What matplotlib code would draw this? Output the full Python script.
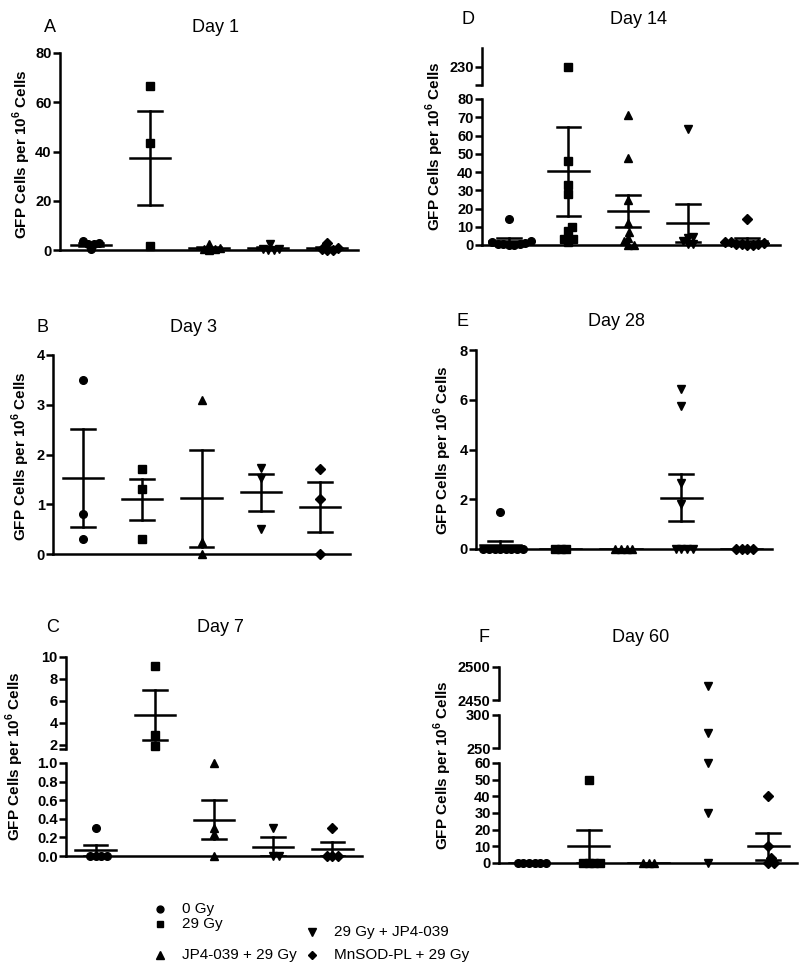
import numpy as np
import matplotlib
matplotlib.use('Agg')
import matplotlib.pyplot as plt

plt.rcParams['font.family'] = ['Liberation Sans', 'DejaVu Sans']
plt.rcParams['mathtext.fontset'] = 'custom'
plt.rcParams['mathtext.rm'] = 'Liberation Sans'
plt.rcParams['mathtext.bf'] = 'Liberation Sans:bold'

# ---------------- data ----------------
groups = ['0 Gy', '29 Gy', 'JP4-039 + 29 Gy', '29 Gy + JP4-039', 'MnSOD-PL + 29 Gy']
markers = ['o', 's', '^', 'v', 'D']
marker_sizes = [5.5, 5.2, 6.2, 6.2, 4.6]

day1_values = [[3.6, 3.0, 2.6, 2.4, 0.4], [66.5, 43.5, 1.5], [2.6, 1.0, 0.6, 0.3, 0.2],
               [2.3, 0.4, 0.3, 0.2, 0.2], [3.0, 0.8, 0.3, 0.2, 0.0]]
day1_mean = [2.2, 37.2, 0.94, 0.7, 0.8]
day1_sem = [0.5, 19.1, 0.44, 0.4, 0.5]

day3_values = [[3.5, 0.8, 0.3], [1.7, 1.3, 0.3], [3.1, 0.25, 0.0], [1.72, 1.52, 0.5], [1.7, 1.1, 0.0]]
day3_mean = [1.53, 1.1, 1.12, 1.24, 0.94]
day3_sem = [0.99, 0.41, 0.98, 0.37, 0.5]

day7_values = [[0.3, 0.0, 0.0, 0.0, 0.0], [9.2, 2.9, 1.9], [1.0, 0.3, 0.24, 0.0], [0.3, 0.0, 0.0],
               [0.3, 0.0, 0.0, 0.0]]
day7_mean = [0.06, 4.67, 0.39, 0.1, 0.075]
day7_sem = [0.06, 2.28, 0.21, 0.1, 0.075]

day14_values = [[14, 2.0, 1.5, 1.0, 0.8, 0.5, 0.3, 0.2, 0.0],
                [230, 46, 33, 28, 10, 7.5, 3.5, 3.5, 1.5],
                [71.5, 47.5, 24.5, 12, 7, 4, 2, 0, 0],
                [63.5, 4.5, 4.0, 2.0, 0.5, 0.5],
                [14, 1.5, 1.5, 1.0, 0.8, 0.5, 0.3, 0.2, 0.0]]
day14_mean = [2.2, 40.3, 18.7, 12.0, 2.2]
day14_sem = [1.5, 24.2, 8.6, 10.3, 1.5]

day28_values = [[1.5, 0, 0, 0, 0, 0, 0, 0, 0], [0, 0, 0], [0, 0, 0, 0],
                [6.45, 5.75, 2.65, 1.8, 0, 0, 0, 0], [0, 0, 0, 0]]
day28_mean = [0.17, 0, 0, 2.06, 0]
day28_sem = [0.15, 0, 0, 0.94, 0]

day60_values = [[0, 0, 0, 0, 0, 0], [50, 0, 0, 0, 0], [0, 0, 0], [2471, 272, 60, 30, 0],
                [40, 10, 3, 0, 0]]
# mean/SEM of the 29 Gy + JP4-039 group is not drawn in the original (nan)
day60_mean = [0, 10, 0, np.nan, 10]
day60_sem = [0, 10, 0, np.nan, 8]

ylabel = 'GFP Cells per 10$^{\\mathbf{6}}$ Cells'

# ---------------- layout ----------------
FW, FH = 800, 973
fig = plt.figure(figsize=(FW / 100, FH / 100), dpi=100)


def fbox(left, top, right, bottom):
    return [left / FW, 1 - bottom / FH, (right - left) / FW, (bottom - top) / FH]


panels = [
    dict(letter='A', title='Day 1', letter_xy=(50, 27), title_xy=(215, 27), ylab_xy=(22, 154),
         left=60, right=358, xlim=(0.47, 5.52),
         segs=[dict(top=53, bottom=250, ylim=(0, 80), ticks=[0, 20, 40, 60, 80])],
         values=day1_values, mean=day1_mean, sem=day1_sem, fmt='%d'),
    dict(letter='B', title='Day 3', letter_xy=(42, 327), title_xy=(193, 327), ylab_xy=(21, 456),
         left=53, right=350, xlim=(0.5, 5.5),
         segs=[dict(top=355, bottom=554, ylim=(0, 4), ticks=[0, 1, 2, 3, 4])],
         values=day3_values, mean=day3_mean, sem=day3_sem, fmt='%d'),
    dict(letter='C', title='Day 7', letter_xy=(53, 628), title_xy=(220, 628), ylab_xy=(15, 756),
         left=66, right=362, xlim=(0.5, 5.5),
         segs=[dict(top=763, bottom=856, ylim=(0, 1.0), ticks=[0, 0.2, 0.4, 0.6, 0.8, 1.0], fmt='%.1f'),
               dict(top=657, bottom=749, ylim=(1.6, 10), ticks=[1.6, 2, 4, 6, 8, 10],
                    labels=['', '2', '4', '6', '8', '10'])],
         values=day7_values, mean=day7_mean, sem=day7_sem, fmt='%d'),
    dict(letter='D', title='Day 14', letter_xy=(468, 20), title_xy=(638, 20), ylab_xy=(435, 146),
         left=482, right=780, xlim=(0.55, 5.55),
         segs=[dict(top=99, bottom=245, ylim=(0, 80), ticks=list(range(0, 81, 10))),
               dict(top=48, bottom=85, ylim=(220, 240), ticks=[220, 230], labels=['', '230'])],
         values=day14_values, mean=day14_mean, sem=day14_sem, fmt='%d'),
    dict(letter='E', title='Day 28', letter_xy=(462, 322), title_xy=(617, 322), ylab_xy=(443, 450),
         left=476, right=772, xlim=(0.6, 5.5),
         segs=[dict(top=350, bottom=549, ylim=(0, 8), ticks=[0, 2, 4, 6, 8])],
         values=day28_values, mean=day28_mean, sem=day28_sem, fmt='%d'),
    dict(letter='F', title='Day 60', letter_xy=(484, 638), title_xy=(641, 638), ylab_xy=(443, 765),
         left=499, right=797, xlim=(0.5, 5.48),
         segs=[dict(top=763, bottom=863, ylim=(0, 60), ticks=list(range(0, 61, 10))),
               dict(top=715, bottom=748, ylim=(250, 300), ticks=[250, 300]),
               dict(top=667, bottom=700, ylim=(2450, 2500), ticks=[2450, 2500])],
         values=day60_values, mean=day60_mean, sem=day60_sem, fmt='%d'),
]

LW = 1.8
MEAN_HW = 0.34
CAP_HW = 0.2
D_PX = 5.6


def swarm(ypx, d):
    order = np.argsort(ypx)
    placed = []
    xs = np.zeros(len(ypx))
    for i in order:
        y = ypx[i]
        cands = [0.0]
        for (xj, yj) in placed:
            dy = abs(y - yj)
            if dy < d:
                dx = np.sqrt(d * d - dy * dy)
                cands += [xj + dx, xj - dx]
        cands = sorted(cands, key=lambda c: (abs(c), -c))
        for c in cands:
            ok = all((c - xj) ** 2 + (y - yj) ** 2 >= d * d * 0.98 for (xj, yj) in placed)
            if ok:
                xs[i] = c
                placed.append((c, y))
                break
    return xs


for p in panels:
    axes = []
    for si, s in enumerate(p['segs']):
        ax = fig.add_axes(fbox(p['left'], s['top'], p['right'], s['bottom']))
        ax.set_xlim(*p['xlim'])
        ax.set_ylim(*s['ylim'])
        ax.patch.set_alpha(0)
        for sp in ['top', 'right']:
            ax.spines[sp].set_visible(False)
        if si > 0:
            ax.spines['bottom'].set_visible(False)
        ax.spines['left'].set_linewidth(LW)
        ax.spines['bottom'].set_linewidth(LW)
        ax.set_xticks([])
        ax.set_yticks(s['ticks'])
        if 'labels' in s:
            ax.set_yticklabels(s['labels'])
        else:
            f = s.get('fmt', p['fmt'])
            ax.set_yticklabels([f % t for t in s['ticks']])
        ax.tick_params(axis='y', length=5, width=LW, labelsize=10.5, pad=1)
        for lab in ax.get_yticklabels():
            lab.set_fontweight('bold')
        axes.append(ax)

    xscale = (p['right'] - p['left']) / (p['xlim'][1] - p['xlim'][0])
    for gi in range(5):
        xc = gi + 1
        vals = np.array(p['values'][gi], dtype=float)
        seg_idx = []
        ypx = []
        for v in vals:
            idx = -1
            for si, s in enumerate(p['segs']):
                if s['ylim'][0] - 1e-9 <= v <= s['ylim'][1] + 1e-9:
                    idx = si
                    break
            seg_idx.append(idx)
            if idx >= 0:
                s = p['segs'][idx]
                frac = (v - s['ylim'][0]) / (s['ylim'][1] - s['ylim'][0])
                ypx.append(s['bottom'] - frac * (s['bottom'] - s['top']))
            else:
                ypx.append(-1e4)
        ypx = -np.array(ypx)
        xoff = swarm(ypx, D_PX)
        for v, si, xo in zip(vals, seg_idx, xoff):
            if si < 0:
                continue
            axes[si].plot(xc + xo / xscale, v, marker=markers[gi], ms=marker_sizes[gi],
                          color='black', mec='black', ls='none', clip_on=False, zorder=3)
        m, e = p['mean'][gi], p['sem'][gi]
        if np.isnan(m):
            continue
        for ax in axes:
            ax.plot([xc - MEAN_HW, xc + MEAN_HW], [m, m], color='black', lw=LW, zorder=4)
            if e > 0:
                ax.plot([xc, xc], [m - e, m + e], color='black', lw=LW, zorder=4)
                for yy in (m - e, m + e):
                    ax.plot([xc - CAP_HW, xc + CAP_HW], [yy, yy], color='black', lw=LW, zorder=4)

    fig.text(p['letter_xy'][0] / FW, 1 - p['letter_xy'][1] / FH, p['letter'],
             ha='center', va='center', fontsize=13)
    fig.text(p['title_xy'][0] / FW, 1 - p['title_xy'][1] / FH, p['title'],
             ha='center', va='center', fontsize=13)
    fig.text(p['ylab_xy'][0] / FW, 1 - p['ylab_xy'][1] / FH, ylabel, rotation=90,
             ha='center', va='center', fontsize=11, fontweight='bold')

# ---------------- legend ----------------
leg = fig.add_axes([0, 0, 1, 1])
leg.set_xlim(0, FW)
leg.set_ylim(FH, 0)
leg.axis('off')
leg_pos = [(160, 909), (160, 924), (160, 955), (312, 932), (312, 955)]
for gi, (lx, ly) in enumerate(leg_pos):
    leg.plot(lx, ly, marker=markers[gi], ms=marker_sizes[gi] * 0.9, color='black', ls='none')
    leg.text(lx + 22, ly, groups[gi], ha='left', va='center', fontsize=11)

fig.savefig('out.png', dpi=100)
